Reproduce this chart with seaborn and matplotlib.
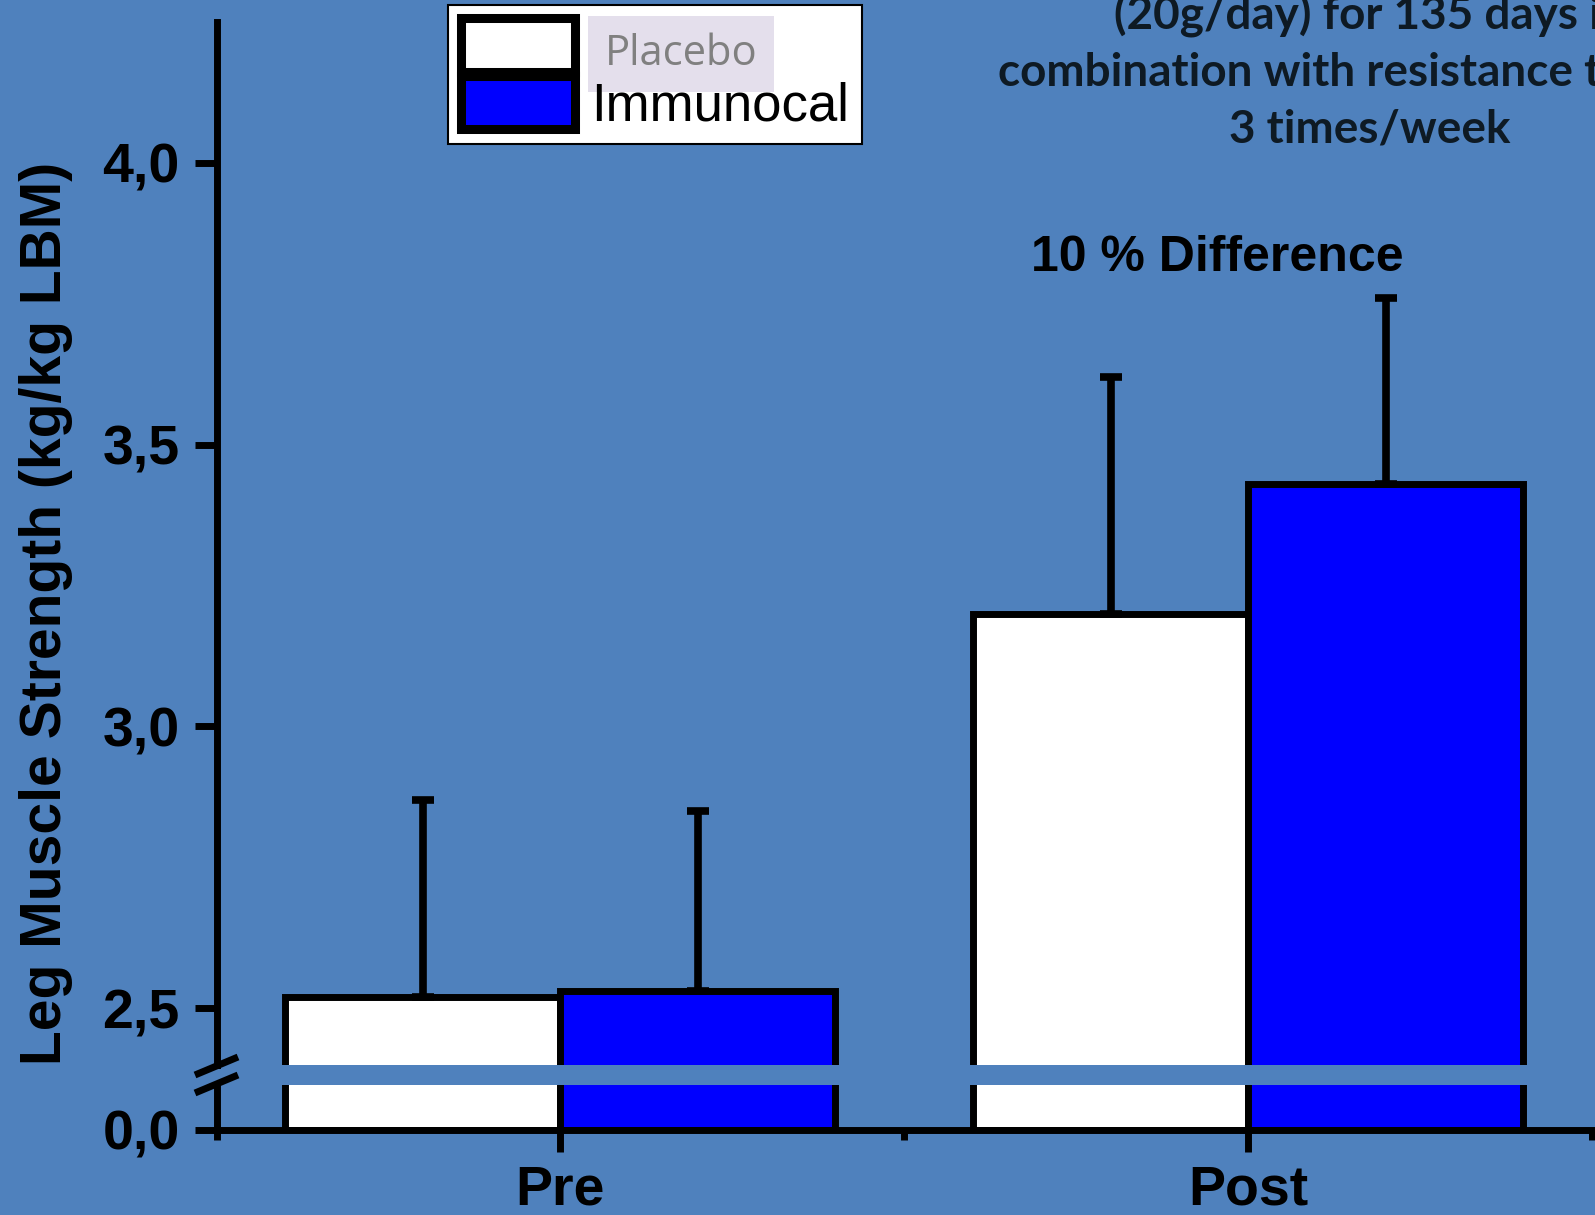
import matplotlib
matplotlib.use('Agg')
import matplotlib.pyplot as plt
import matplotlib.patches as mpatches
from matplotlib.lines import Line2D
from matplotlib.font_manager import FontProperties
import seaborn as sns
import pandas as pd

# ---------------- data ----------------
times = ['Pre', 'Post']
groups = ['Placebo', 'Immunocal']
placebo_mean = [2.52, 3.20]
immunocal_mean = [2.53, 3.43]
placebo_sd = [0.35, 0.42]
immunocal_sd = [0.32, 0.33]
group_colors = ['#FFFFFF', '#0000FF']
upper_ticks = [2.5, 3.0, 3.5, 4.0]
upper_tick_labels = ['2,5', '3,0', '3,5', '4,0']
lower_ticks = [0.0]
lower_tick_labels = ['0,0']
ylabel = 'Leg Muscle Strength (kg/kg LBM)'
note_lines = ['(20g/day) for 135 days in',
              'combination with resistance training',
              '3 times/week']
diff_label = '10 % Difference'

df = pd.DataFrame({
    'Time': times * 2,
    'Group': [groups[0]] * 2 + [groups[1]] * 2,
    'Value': placebo_mean + immunocal_mean,
})
sd_map = {groups[0]: placebo_sd, groups[1]: immunocal_sd}
palette = dict(zip(groups, group_colors))

# ---------------- figure ----------------
BG = '#4F81BD'
W, H = 1595, 1215
fig = plt.figure(figsize=(W / 100, H / 100), dpi=100, facecolor=BG)

left = 216.5 / W
right = 1592 / W
ax_top = fig.add_axes([left, 1 - 1065 / H, right - left, (1065 - 22) / H])
ax_bot = fig.add_axes([left, 1 - 1130 / H, right - left, (1130 - 1085) / H])

for ax in (ax_top, ax_bot):
    ax.set_facecolor(BG)
    sns.barplot(data=df, x='Time', y='Value', hue='Group', order=times,
                hue_order=groups, palette=palette, saturation=1,
                edgecolor='black', linewidth=5, errorbar=None, width=0.8,
                gap=0, legend=False, ax=ax, zorder=2)
    for container, grp in zip(ax.containers, groups):
        for bar, sd in zip(container, sd_map[grp]):
            xc = bar.get_x() + bar.get_width() / 2
            ax.errorbar(xc, bar.get_height(), yerr=[[0], [sd]], fmt='none',
                        ecolor='black', elinewidth=5.5, capsize=8,
                        capthick=5.5, zorder=3)
    ax.set_xlim(-0.5, 1.5)
    ax.set_xlabel('')
    ax.set_ylabel('')
    ax.spines['top'].set_visible(False)
    ax.spines['right'].set_visible(False)
    ax.spines['left'].set_linewidth(5)
    ax.spines['bottom'].set_linewidth(5)

ytick_font = FontProperties(family='Liberation Sans', weight='bold', size=40)
xtick_font = FontProperties(family='Liberation Sans', weight='bold', size=40)

# upper axis
ax_top.set_ylim(2.399, 4.25)
ax_top.spines['bottom'].set_visible(False)
ax_top.set_yticks(upper_ticks)
ax_top.set_yticklabels(upper_tick_labels, fontproperties=ytick_font)
ax_top.tick_params(axis='x', which='both', bottom=False, labelbottom=False)
ax_top.tick_params(axis='y', length=15.5, width=5, pad=11, color='black')

# lower axis
ax_bot.set_ylim(0, 0.08)
ax_bot.set_yticks(lower_ticks)
ax_bot.set_yticklabels(lower_tick_labels, fontproperties=ytick_font)
ax_bot.tick_params(axis='y', length=15.5, width=5, pad=11, color='black')
ax_bot.set_xticks([0, 1])
ax_bot.set_xticklabels(times, fontproperties=xtick_font)
ax_bot.set_xticks([-0.5, 0.5, 1.5], minor=True)
ax_bot.tick_params(axis='x', which='major', length=15.5, width=5, pad=9)
ax_bot.tick_params(axis='x', which='minor', length=7.5, width=5)

# break marks
for y0, y1 in [(1075, 1057), (1093, 1075)]:
    fig.add_artist(Line2D([195 / W, 238 / W], [1 - y0 / H, 1 - y1 / H],
                          transform=fig.transFigure, color='black', lw=5,
                          solid_capstyle='butt'))

# y label
fig.text(46 / W, 1 - 613 / H, ylabel, rotation=90, ha='center', va='center',
         fontfamily='Liberation Sans', fontweight='bold', fontsize=41)

# legend
handles = [mpatches.Patch(facecolor=palette[g], edgecolor='black', linewidth=6.5)
           for g in groups]
leg = fig.legend(handles, groups, loc='upper left',
                 bbox_to_anchor=(448 / W, 1 - 5 / H),
                 prop=FontProperties(family='Liberation Sans', size=38),
                 handlelength=2.16, handleheight=1.19, labelspacing=0.05,
                 handletextpad=0.3, borderpad=0.25, fancybox=False,
                 framealpha=1, edgecolor='black', borderaxespad=0)
leg.get_frame().set_linewidth(1.5)
t0 = leg.get_texts()[0]
t0.set_color('#808080')
t0.set_fontfamily('Open Sans')
t0.set_fontsize(30)
t0.set_position((14, -2))
t0.set_bbox(dict(facecolor='#E4DFEC', edgecolor='none', pad=12))

# notes
for i, line in enumerate(note_lines):
    fig.text(1370 / W, 1 - (28.5 + 57 * i) / H, line, ha='center',
             va='baseline', fontfamily='Lato', fontweight='bold', fontsize=33,
             color='#0E1A24')

fig.text(1217 / W, 1 - 270.6 / H, diff_label, ha='center', va='baseline',
         fontfamily='Liberation Sans', fontweight='bold', fontsize=36,
         color='black')

fig.savefig('out.png', dpi=100, facecolor=BG)
